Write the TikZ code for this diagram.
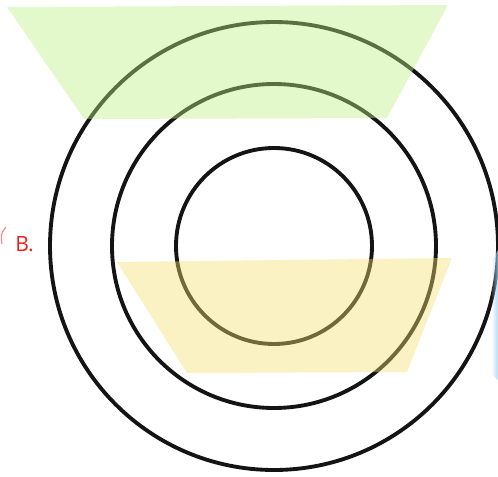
\documentclass[tikz,border=0pt]{standalone}
\usepackage{fontspec}
\setmainfont{Open Sans}
\usepackage{xcolor}
\usepackage{tikz}
\usetikzlibrary{positioning, calc, fadings}
\definecolor{ringline}{HTML}{141414}
\definecolor{topband}{HTML}{BFF184}
\definecolor{lowband}{HTML}{F2DF6E}
\definecolor{sideblue}{HTML}{A9D2F2}
\definecolor{labelred}{HTML}{E8221C}

\tikzset{
    ring/.style={circle, draw=ringline, line width=2.2pt, inner sep=0pt},
    band/.style={fill opacity=0.42}
}

\begin{document}
\begin{tikzpicture}[x=0.02cm, y=-0.02cm]
    \useasboundingbox (0,0) rectangle (498,477);
    \coordinate (c) at (274,246);
    % rings
    \node[ring, minimum size=448*0.02cm] (outer) at (c) {};
    \node[ring, minimum size=324*0.02cm] (middle) at (c) {};
    \node[ring, minimum size=196*0.02cm] (inner) at (c) {};
    % shaded bands
    \fill[topband, band] (7,7) -- (448,5) -- (387,118) -- (84,119) -- cycle;
    \fill[lowband, band] (117,262) -- (452,258) -- (407,372) -- (187,373) -- cycle;
    \fill[sideblue, path fading=west, opacity=0.8] (491,262) -- (498,250) -- (498,380) -- (492,375) -- cycle;
    % label
    \draw[labelred, line width=0.7pt, opacity=0.5] (6,227) -- (3,231) .. controls (1,236) .. (2,244);
    \node[labelred, font=\fontsize{12}{14}\selectfont, anchor=west, inner sep=0pt] (lbl) at (15,244) {B.};
\end{tikzpicture}
\end{document}
